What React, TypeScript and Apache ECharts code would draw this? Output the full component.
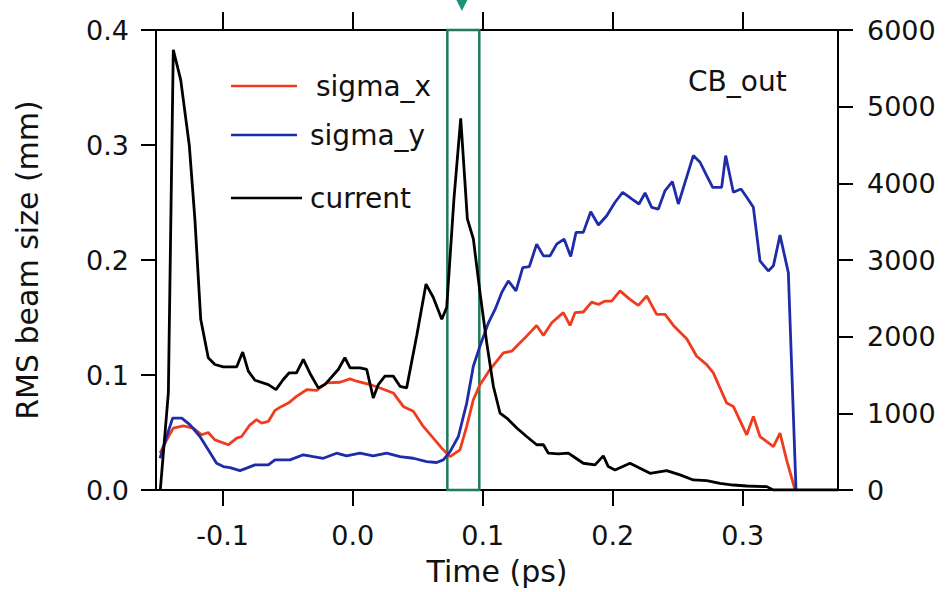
import React, { useEffect, useRef } from "react";
import * as echarts from "echarts";

const FONT = "DejaVu Sans";

const xTickValues = [-0.1, 0.0, 0.1, 0.2, 0.3];
const xMin = -0.1513;
const xMax = 0.3733;

const sigmaXTime = [-0.1482, -0.1431, -0.138, -0.1303, -0.1226, -0.1162, -0.1111, -0.106, -0.0957, -0.0892, -0.0854, -0.079, -0.0739, -0.07, -0.0649, -0.0598, -0.0547, -0.0495, -0.0432, -0.0354, -0.0277, -0.02, -0.0098, -0.002, 0.003, 0.0133, 0.021, 0.0312, 0.0389, 0.0466, 0.0543, 0.062, 0.0685, 0.0749, 0.0825, 0.0877, 0.0928, 0.0979, 0.1056, 0.1159, 0.1223, 0.1287, 0.1338, 0.1415, 0.1467, 0.1531, 0.162, 0.1672, 0.171, 0.1774, 0.1838, 0.189, 0.1941, 0.1992, 0.2056, 0.2133, 0.2197, 0.2262, 0.2338, 0.2403, 0.2467, 0.2569, 0.2646, 0.2723, 0.2774, 0.2877, 0.2928, 0.3031, 0.3082, 0.3133, 0.3236, 0.3287, 0.3338, 0.3403];
const sigmaX = [0.032, 0.0436, 0.0538, 0.0558, 0.0538, 0.048, 0.05, 0.0436, 0.0393, 0.0451, 0.0465, 0.0567, 0.0611, 0.0582, 0.0596, 0.0692, 0.0727, 0.0756, 0.0814, 0.0872, 0.0866, 0.0931, 0.0937, 0.0966, 0.0946, 0.0917, 0.0887, 0.0844, 0.0727, 0.0684, 0.0553, 0.0451, 0.0364, 0.029, 0.0349, 0.0553, 0.0785, 0.0916, 0.1047, 0.1193, 0.1207, 0.128, 0.1338, 0.1431, 0.1344, 0.1454, 0.1542, 0.1431, 0.1542, 0.1548, 0.1634, 0.1614, 0.1643, 0.1643, 0.1731, 0.1658, 0.1605, 0.1687, 0.1527, 0.1527, 0.1431, 0.1315, 0.1163, 0.109, 0.1018, 0.0756, 0.0727, 0.048, 0.064, 0.0465, 0.0378, 0.0494, 0.026, 0];

const sigmaYTime = [-0.1482, -0.1431, -0.1385, -0.1315, -0.1251, -0.1175, -0.1111, -0.1047, -0.0995, -0.0944, -0.0867, -0.0816, -0.0752, -0.0649, -0.0598, -0.0482, -0.038, -0.0303, -0.0226, -0.0124, -0.0047, 0.0056, 0.0158, 0.0261, 0.0364, 0.0466, 0.0569, 0.0646, 0.0697, 0.0749, 0.0813, 0.0877, 0.0928, 0.0979, 0.1044, 0.1095, 0.1146, 0.1197, 0.1256, 0.1308, 0.1359, 0.1415, 0.1467, 0.1518, 0.1569, 0.1626, 0.1677, 0.1718, 0.1774, 0.1831, 0.189, 0.1954, 0.2018, 0.2077, 0.2146, 0.2202, 0.2249, 0.23, 0.2351, 0.2403, 0.2459, 0.2505, 0.2569, 0.262, 0.2672, 0.2723, 0.2769, 0.2838, 0.2869, 0.2928, 0.2987, 0.3031, 0.3082, 0.3133, 0.3197, 0.3236, 0.3287, 0.3351, 0.341];
const sigmaY = [0.0276, 0.0465, 0.0625, 0.0625, 0.0567, 0.0465, 0.0349, 0.0233, 0.0204, 0.0195, 0.0169, 0.019, 0.0218, 0.0218, 0.0262, 0.0262, 0.0306, 0.029, 0.0276, 0.032, 0.0297, 0.032, 0.0297, 0.032, 0.029, 0.0276, 0.0247, 0.0239, 0.0262, 0.0334, 0.0465, 0.0756, 0.1076, 0.1251, 0.1454, 0.157, 0.1716, 0.1818, 0.1731, 0.1934, 0.1943, 0.2138, 0.2036, 0.2036, 0.2138, 0.2182, 0.203, 0.224, 0.224, 0.242, 0.2304, 0.2385, 0.2502, 0.2589, 0.2531, 0.2487, 0.2583, 0.2458, 0.2443, 0.2604, 0.2682, 0.2487, 0.272, 0.2908, 0.285, 0.2734, 0.2632, 0.2632, 0.2908, 0.2589, 0.2618, 0.2545, 0.2458, 0.1992, 0.1905, 0.1949, 0.2216, 0.189, 0];

const currentTime = [-0.148, -0.1418, -0.138, -0.1323, -0.1257, -0.1214, -0.1169, -0.1111, -0.106, -0.0995, -0.0892, -0.0846, -0.0803, -0.0752, -0.0649, -0.059, -0.0534, -0.0488, -0.0432, -0.038, -0.0328, -0.0265, -0.0214, -0.0111, -0.006, -0.002, 0.0056, 0.0108, 0.0158, 0.0197, 0.0248, 0.0312, 0.0364, 0.0415, 0.0492, 0.0564, 0.062, 0.0685, 0.0723, 0.0779, 0.0831, 0.0882, 0.0928, 0.0979, 0.1031, 0.1082, 0.1133, 0.1185, 0.1262, 0.1338, 0.1415, 0.1467, 0.1505, 0.1582, 0.1659, 0.1697, 0.1774, 0.1864, 0.1928, 0.1966, 0.2018, 0.2133, 0.221, 0.2287, 0.2415, 0.2518, 0.262, 0.2723, 0.2825, 0.2928, 0.3031, 0.3185, 0.3236, 0.3733];
const current = [0, 1266, 5742, 5349, 4497, 3537, 2227, 1725, 1637, 1607, 1607, 1799, 1550, 1432, 1375, 1310, 1441, 1529, 1529, 1703, 1520, 1332, 1375, 1572, 1725, 1594, 1594, 1572, 1201, 1375, 1485, 1485, 1353, 1332, 2009, 2686, 2511, 2227, 2380, 3800, 4847, 3537, 3275, 2577, 1921, 1353, 1004, 939, 808, 698, 590, 590, 480, 472, 480, 437, 349, 328, 445, 306, 262, 349, 284, 218, 253, 197, 131, 122, 87, 65, 52, 44, 0, 0];

const highlightWindow = [0.0728, 0.0974];
const arrowTime = 0.084;

const zip = (t: number[], v: number[]) => t.map((x, i) => [x, v[i]]);

const labelStyle = { fontFamily: FONT, fontSize: 27, color: "#111" };

export default function App() {
  const ref = useRef<HTMLDivElement>(null);
  useEffect(() => {
    if (!ref.current) return;
    const chart = echarts.init(ref.current, null, { renderer: "svg" });
    const axisLine = { show: true, onZero: false, lineStyle: { color: "#000", width: 2 } };
    const tick = (length: number) => ({ show: true, inside: false, length, lineStyle: { width: 2, color: "#000" } });
    const legendBase = {
      orient: "horizontal",
      padding: 0,
      icon: "rect",
      itemHeight: 2.5,
      itemWidth: 66,
      selectedMode: false,
    };
    chart.setOption({
      animation: false,
      backgroundColor: "#fff",
      grid: { left: 156, right: 109, top: 30, bottom: 102, containLabel: false },
      title: {
        text: "CB_out",
        left: 688,
        top: 67,
        padding: 0,
        textStyle: { fontFamily: FONT, fontSize: 28, fontWeight: "normal", color: "#111" },
      },
      legend: [
        { ...legendBase, data: ["sigma_x"], left: 231, top: 72, textStyle: { fontFamily: FONT, fontSize: 28, color: "#111", padding: [6, 0, 0, 14] } },
        { ...legendBase, data: ["sigma_y"], left: 231, top: 121, textStyle: { fontFamily: FONT, fontSize: 28, color: "#111", padding: [6, 0, 0, 8] } },
        { ...legendBase, data: ["current"], itemWidth: 71, left: 231, top: 184, textStyle: { fontFamily: FONT, fontSize: 28, color: "#111", padding: [4, 0, 0, 3] } },
      ],
      xAxis: [
        {
          type: "value",
          position: "bottom",
          min: xMin,
          max: xMax,
          splitLine: { show: false },
          axisLine,
          axisTick: { ...tick(16), customValues: xTickValues },
          axisLabel: { ...labelStyle, margin: 32, customValues: xTickValues, formatter: (v: number) => v.toFixed(1) },
          name: "Time (ps)",
          nameLocation: "middle",
          nameGap: 66,
          nameTextStyle: { fontFamily: FONT, fontSize: 30, color: "#111" },
        },
        {
          type: "value",
          position: "top",
          min: xMin,
          max: xMax,
          splitLine: { show: false },
          axisLine,
          axisTick: { ...tick(18), customValues: xTickValues },
          axisLabel: { show: false, customValues: xTickValues },
        },
      ],
      yAxis: [
        {
          type: "value",
          position: "left",
          min: 0,
          max: 0.4,
          interval: 0.1,
          splitLine: { show: false },
          axisLine,
          axisTick: tick(15),
          axisLabel: { ...labelStyle, margin: 27, formatter: (v: number) => v.toFixed(1) },
          name: "RMS beam size (mm)",
          nameLocation: "middle",
          nameRotate: 90,
          nameGap: 114,
          nameTextStyle: { fontFamily: FONT, fontSize: 30, color: "#111" },
        },
        {
          type: "value",
          position: "right",
          min: 0,
          max: 6000,
          interval: 1000,
          splitLine: { show: false },
          axisLine,
          axisTick: tick(15),
          axisLabel: { ...labelStyle, margin: 29, formatter: (v: number) => String(v) },
        },
      ],
      series: [
        {
          name: "sigma_x",
          type: "line",
          xAxisIndex: 0,
          yAxisIndex: 0,
          data: zip(sigmaXTime, sigmaX),
          symbol: "none",
          lineStyle: { color: "#f03c1e", width: 2.8 },
          itemStyle: { color: "#f03c1e" },
          clip: false,
          markArea: {
            silent: true,
            itemStyle: { color: "rgba(0,0,0,0)", borderColor: "#1e7d58", borderWidth: 2.5 },
            label: { show: false },
            data: [[{ xAxis: highlightWindow[0], yAxis: 0.4 }, { xAxis: highlightWindow[1], yAxis: -0.002 }]],
          },
        },
        {
          name: "sigma_y",
          type: "line",
          xAxisIndex: 0,
          yAxisIndex: 0,
          data: zip(sigmaYTime, sigmaY),
          symbol: "none",
          lineStyle: { color: "#1e2ca8", width: 2.8 },
          itemStyle: { color: "#1e2ca8" },
        },
        {
          name: "current",
          type: "line",
          xAxisIndex: 0,
          yAxisIndex: 1,
          data: zip(currentTime, current),
          symbol: "none",
          lineStyle: { color: "#000", width: 2.8 },
          itemStyle: { color: "#000" },
        },
      ],
    });
    // arrow marker above the highlighted window, placed through the axis scale
    const tip = chart.convertToPixel({ xAxisIndex: 0, yAxisIndex: 0 }, [arrowTime, 0.4]) as number[];
    if (tip) {
      const cx = tip[0];
      const tipY = tip[1] - 19;
      chart.setOption({
        graphic: [
          {
            type: "polygon",
            silent: true,
            shape: { points: [[cx - 7, tipY - 14], [cx + 7, tipY - 14], [cx, tipY]] },
            style: { fill: "#1c9478" },
          },
        ],
      });
    }
    return () => chart.dispose();
  }, []);
  return <div ref={ref} style={{ position: "absolute", left: 0, top: 0, width: 947, height: 592 }} />;
}
